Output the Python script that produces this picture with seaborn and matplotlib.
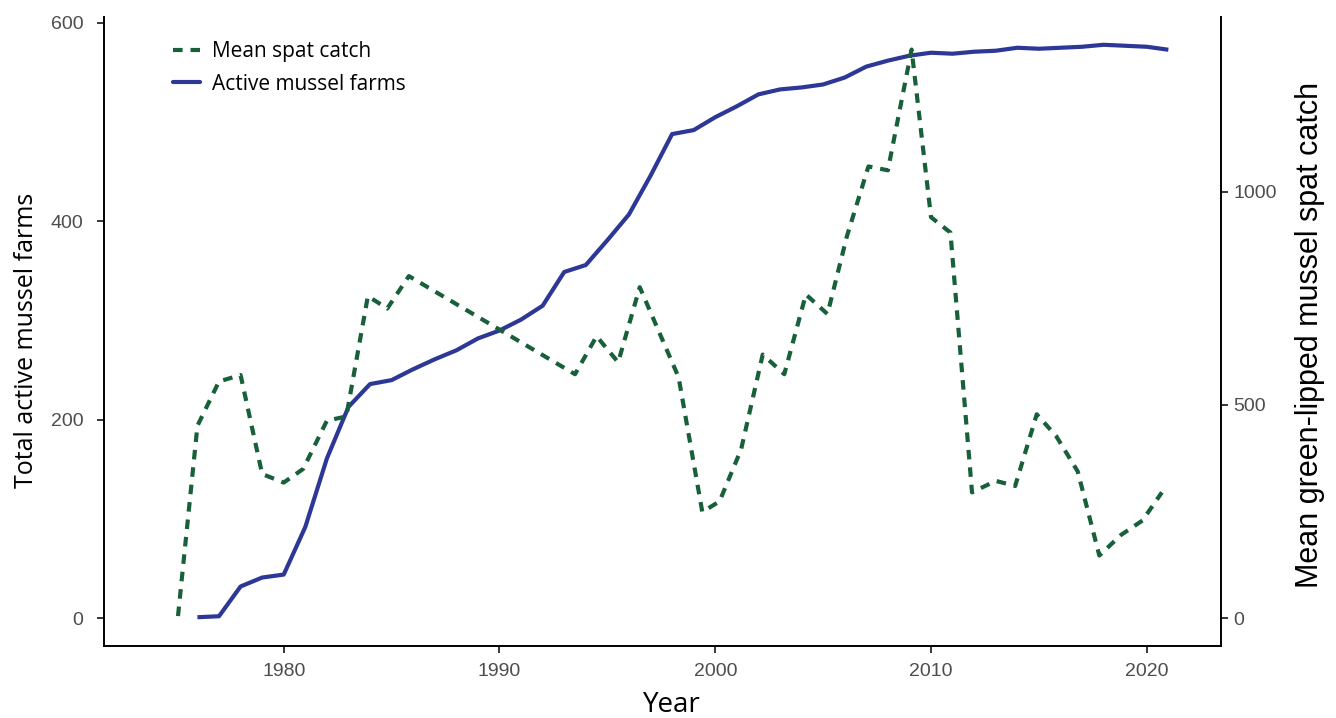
import matplotlib
matplotlib.use("Agg")
import matplotlib.pyplot as plt
import seaborn as sns
import pandas as pd
from matplotlib.lines import Line2D

# ---- data ----
farm_years = list(range(1976, 2022))
active_farms = [1, 2, 32, 41, 44, 92, 161, 213, 236, 240,
                251, 261, 270, 282, 290, 301, 315, 349, 356, 381,
                407, 446, 488, 492, 505, 516, 528, 533, 535, 538,
                545, 556, 562, 567, 570, 569, 571, 572, 575, 574,
                575, 576, 578, 577, 576, 573]

spat_years = [1975.1, 1976.0, 1977.0, 1978.0, 1979.0, 1980.0, 1980.9, 1982.0,
              1982.9, 1983.9, 1984.8, 1985.8, 1993.5, 1994.5, 1995.5, 1996.5,
              1998.3, 1999.4, 2000.2, 2001.2, 2002.2, 2003.2, 2004.2, 2005.2,
              2006.1, 2007.1, 2008.0, 2009.1, 2010.0, 2010.9, 2011.9, 2013.0,
              2013.9, 2014.9, 2015.8, 2016.8, 2017.8, 2018.8, 2019.8, 2020.7]
spat_catch = [5, 451, 555, 570, 338, 318, 350, 463,
              473, 755, 726, 802, 572, 661, 600, 776,
              565, 249, 274, 396, 618, 572, 759, 713,
              895, 1059, 1050, 1333, 940, 904, 295, 322,
              310, 478, 427, 344, 147, 195, 229, 295]

x_ticks = [1980, 1990, 2000, 2010, 2020]
left_ticks = [0, 200, 400, 600]
right_ticks = [0, 500, 1000]

farms_df = pd.DataFrame({"Year": farm_years, "Farms": active_farms})
spat_df = pd.DataFrame({"Year": spat_years, "Spat": spat_catch})

# ---- style ----
sns.set_theme(style="ticks")
plt.rcParams["font.family"] = ["Liberation Sans", "DejaVu Sans"]
title_font = ["Open Sans", "DejaVu Sans"]

BLUE = "#2D3796"
GREEN = "#17603A"
TICK_GREY = "#4D4D4D"

fig = plt.figure(figsize=(13.36, 7.18), dpi=100)
ax = fig.add_axes([104 / 1336, 1 - 646 / 718, 1117 / 1336, 629 / 718])
ax2 = ax.twinx()

sns.lineplot(data=farms_df, x="Year", y="Farms", ax=ax, color=BLUE,
             linewidth=3.0, solid_capstyle="butt")
sns.lineplot(data=spat_df, x="Year", y="Spat", ax=ax2, color=GREEN,
             linewidth=3.0, dashes=False)
ax2.lines[0].set_dashes((2.3, 1.9))

scale = 2.3256
ax.set_xlim(1971.67, 2023.44)
ax.set_ylim(-28, 606)
ax2.set_ylim(-28 * scale, 606 * scale)

ax.set_xticks(x_ticks)
ax.set_yticks(left_ticks)
ax2.set_yticks(right_ticks)

for a in (ax, ax2):
    a.spines["top"].set_visible(False)
    for s in a.spines.values():
        s.set_linewidth(1.4)
        s.set_color("black")
    a.tick_params(axis="both", length=5, width=1.1, color="black",
                  labelsize=14, labelcolor=TICK_GREY, pad=4)
ax.spines["right"].set_visible(False)
ax2.spines["left"].set_visible(False)
ax2.spines["bottom"].set_visible(False)
ax.tick_params(axis="x", pad=7)
ax.tick_params(axis="y", pad=10)

ax.set_xlabel("Year", fontsize=20, family=title_font, color="black")
ax.set_ylabel("Total active mussel farms", fontsize=18, family=title_font, color="black")
ax2.set_ylabel("Mean green-lipped mussel spat catch", fontsize=22, color="black")

ax.xaxis.set_label_coords(0.5085, -0.094)
ax.xaxis.label.set_verticalalignment("center")
ax.yaxis.set_label_coords(-0.069, 0.4865)
ax.yaxis.label.set_verticalalignment("center")
ax2.yaxis.set_label_coords(1.0797, 0.494)
ax2.yaxis.label.set_verticalalignment("center")
ax2.yaxis.label.set_rotation(90)

handles = [
    Line2D([0], [0], color=GREEN, linewidth=3.0, dashes=(2.3, 1.9)),
    Line2D([0], [0], color=BLUE, linewidth=3.0),
]
leg = ax.legend(handles, ["Mean spat catch", "Active mussel farms"],
                loc="upper left", bbox_to_anchor=(0.054, 0.975), frameon=False,
                prop={"family": title_font, "size": 15}, handlelength=1.3,
                handletextpad=0.6, labelspacing=0.55, borderaxespad=0)
for t in leg.get_texts():
    t.set_color("black")

fig.savefig("out.png", dpi=100, facecolor="white")
